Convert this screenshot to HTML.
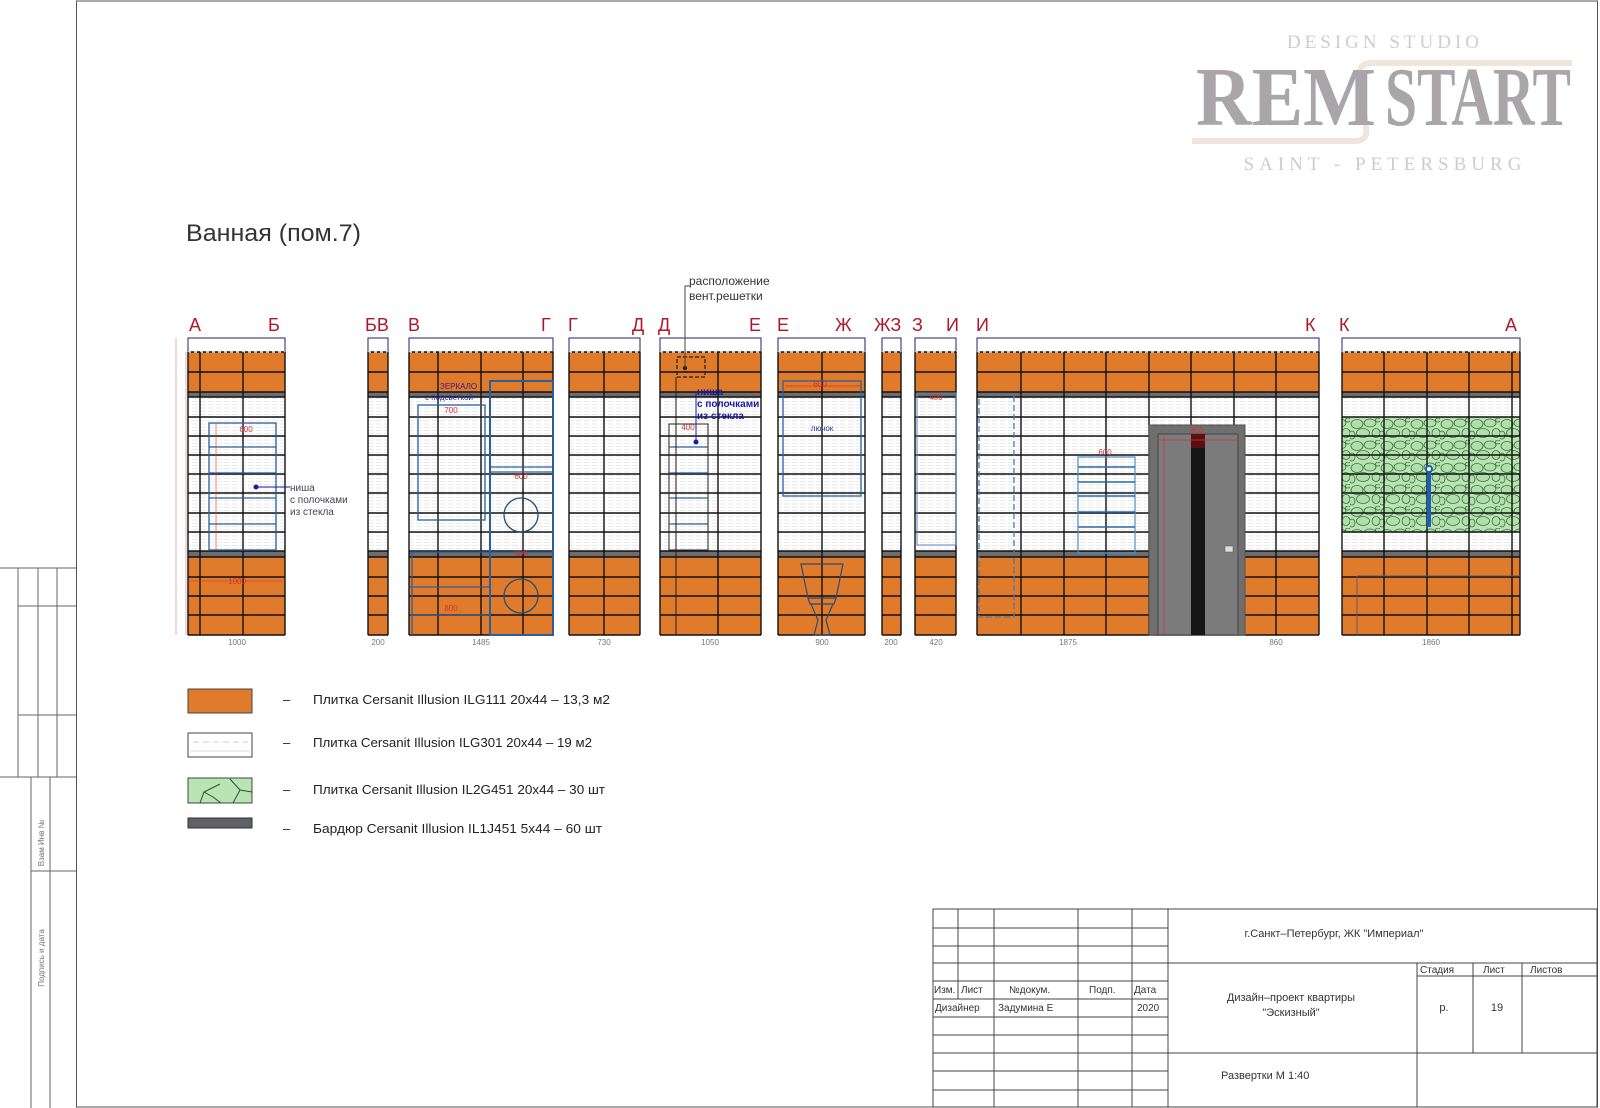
<!DOCTYPE html>
<html><head><meta charset="utf-8"><style>
html,body{margin:0;padding:0;background:#fff}
svg{display:block}
text{font-family:"Liberation Sans","DejaVu Sans",sans-serif}
</style></head><body>
<svg id="s" xmlns="http://www.w3.org/2000/svg" width="1600" height="1108" viewBox="0 0 1600 1108">
<defs>
<pattern id="wt" width="8" height="3.2" patternUnits="userSpaceOnUse">
<rect width="8" height="3.2" fill="#fff"/><line x1="0" y1="1.6" x2="6" y2="1.6" stroke="#e0e0e0" stroke-width="0.7"/>
</pattern>
<pattern id="peb" width="30" height="22" patternUnits="userSpaceOnUse">
<rect width="30" height="22" fill="#b9e4b4"/>
<g fill="#b0e0aa" stroke="#3d6b3d" stroke-width="0.8">
<ellipse cx="7" cy="6" rx="6" ry="4.5"/><ellipse cx="20" cy="5" rx="6" ry="4"/><ellipse cx="13" cy="15" rx="6.5" ry="4.5"/><ellipse cx="26" cy="15" rx="4" ry="4.5"/><ellipse cx="2" cy="17" rx="3" ry="4"/><ellipse cx="28" cy="2" rx="2.5" ry="2"/>
</g>
</pattern>
</defs>
<!-- page border -->
<rect x="76.5" y="1" width="1521" height="1106" fill="none" stroke="#555" stroke-width="1"/>
<!-- left stamp -->
<g stroke="#666" stroke-width="1" fill="none">
<line x1="0" y1="568" x2="76" y2="568"/><line x1="0" y1="777" x2="76" y2="777"/>
<line x1="18" y1="568" x2="18" y2="777"/><line x1="38" y1="568" x2="38" y2="777"/><line x1="57" y1="568" x2="57" y2="777"/>
<line x1="18" y1="606" x2="76" y2="606"/><line x1="18" y1="715" x2="76" y2="715"/>
<line x1="31" y1="777" x2="31" y2="1108"/><line x1="50" y1="777" x2="50" y2="1108"/>
<line x1="31" y1="871" x2="76" y2="871"/>
</g>
<text transform="translate(44,843) rotate(-90)" font-size="8" fill="#777" text-anchor="middle">Взам Инв №</text>
<text transform="translate(44,958) rotate(-90)" font-size="8" fill="#777" text-anchor="middle">Подпись и дата</text>

<!-- logo -->
<path d="M1192 141 L1355 141 Q1368 141 1366 128 L1360 76 Q1358 63 1372 63 L1572 63" fill="none" stroke="#f1e4d8" stroke-width="6"/>
<text x="1385" y="48" style="font-family:'Liberation Serif',serif" font-size="19" fill="#d2cccc" text-anchor="middle" letter-spacing="4">DESIGN STUDIO</text>
<text x="1196" y="125" style="font-family:'Liberation Serif',serif" font-size="84" font-weight="bold" fill="#a9a5a8" textLength="180" lengthAdjust="spacingAndGlyphs">REM</text>
<text x="1385" y="125" style="font-family:'Liberation Serif',serif" font-size="84" font-weight="bold" fill="#a9a5a8" textLength="186" lengthAdjust="spacingAndGlyphs">START</text>
<text x="1385" y="170" style="font-family:'Liberation Serif',serif" font-size="19" fill="#d0cbcb" text-anchor="middle" letter-spacing="5">SAINT - PETERSBURG</text>

<text x="186" y="241" font-size="24" fill="#333" textLength="175" lengthAdjust="spacingAndGlyphs">Ванная (пом.7)</text>

<!-- wall labels -->
<g font-size="18" fill="#b0182a">
<text x="189" y="331">А</text><text x="268" y="331">Б</text>
<text x="365" y="331">БВ</text><text x="408" y="331">В</text><text x="541" y="331">Г</text>
<text x="568" y="331">Г</text><text x="632" y="331">Д</text><text x="658" y="331">Д</text><text x="749" y="331">Е</text>
<text x="777" y="331">Е</text><text x="835" y="331">Ж</text><text x="874" y="331">ЖЗ</text><text x="912" y="331">З</text><text x="946" y="331">И</text>
<text x="976" y="331">И</text><text x="1305" y="331">К</text><text x="1339" y="331">К</text><text x="1505" y="331">А</text>
</g>
<g id="walls"></g>
<g id="over"></g>

<!-- vent annotation -->
<polyline points="685,368 685,286 690,286" fill="none" stroke="#444" stroke-width="1"/>
<text x="689" y="285" font-size="12" fill="#333">расположение</text>
<text x="689" y="300" font-size="12" fill="#333">вент.решетки</text>

<!-- bottom dims -->
<g font-size="8" fill="#777" text-anchor="middle">
<text x="237" y="645">1000</text><text x="378" y="645">200</text><text x="481" y="645">1485</text><text x="604" y="645">730</text>
<text x="710" y="645">1050</text><text x="822" y="645">900</text><text x="891" y="645">200</text><text x="936" y="645">420</text>
<text x="1068" y="645">1875</text><text x="1276" y="645">860</text><text x="1431" y="645">1860</text>
</g>

<!-- legend -->
<rect x="188" y="689" width="64" height="24" fill="#e07b2c" stroke="#444"/>
<rect x="188" y="733" width="64" height="24" fill="#fff" stroke="#444"/>
<line x1="193" y1="742" x2="248" y2="742" stroke="#ccc" stroke-dasharray="6,4"/><line x1="190" y1="751" x2="250" y2="751" stroke="#ddd"/>
<rect x="188" y="778" width="64" height="25" fill="#b9e4b4" stroke="#444"/>
<path d="M200 803 L204 792 L220 784 M204 792 L213 797 L221 803 M230 779 L240 790 L252 792 M240 790 L233 803" fill="none" stroke="#2e4e2e" stroke-width="1"/>
<rect x="188" y="818" width="64" height="10" fill="#5e6266" stroke="#333"/>
<g font-size="13" fill="#222">
<text x="283" y="704">–</text><text x="313" y="704" textLength="297" lengthAdjust="spacingAndGlyphs">Плитка Cersanit Illusion ILG111 20x44  – 13,3 м2</text>
<text x="283" y="747">–</text><text x="313" y="747" textLength="279" lengthAdjust="spacingAndGlyphs">Плитка Cersanit Illusion ILG301 20x44 – 19 м2</text>
<text x="283" y="794">–</text><text x="313" y="794" textLength="292" lengthAdjust="spacingAndGlyphs">Плитка Cersanit Illusion IL2G451 20x44 – 30 шт</text>
<text x="283" y="833">–</text><text x="313" y="833" textLength="289" lengthAdjust="spacingAndGlyphs">Бардюр Cersanit Illusion IL1J451 5x44 –  60 шт</text>
</g>

<!-- title block -->
<g stroke="#444" stroke-width="1" fill="none">
<rect x="933" y="909" width="664" height="198"/>
<line x1="1168" y1="909" x2="1168" y2="1107"/>
<line x1="958" y1="909" x2="958" y2="999"/>
<line x1="994" y1="909" x2="994" y2="1107"/><line x1="1078" y1="909" x2="1078" y2="1107"/><line x1="1132" y1="909" x2="1132" y2="1107"/>
<line x1="933" y1="928" x2="1168" y2="928"/><line x1="933" y1="946" x2="1168" y2="946"/><line x1="933" y1="963" x2="1168" y2="963"/>
<line x1="933" y1="981" x2="1168" y2="981"/><line x1="933" y1="999" x2="1168" y2="999"/><line x1="933" y1="1017" x2="1168" y2="1017"/>
<line x1="933" y1="1035" x2="1168" y2="1035"/><line x1="933" y1="1053" x2="1168" y2="1053"/><line x1="933" y1="1071" x2="1168" y2="1071"/><line x1="933" y1="1090" x2="1168" y2="1090"/>
<line x1="1168" y1="963" x2="1597" y2="963"/><line x1="1168" y1="1053" x2="1597" y2="1053"/>
<line x1="1417" y1="963" x2="1417" y2="1107"/><line x1="1473" y1="963" x2="1473" y2="1053"/><line x1="1522" y1="963" x2="1522" y2="1053"/>
<line x1="1417" y1="976" x2="1597" y2="976"/>
</g>
<g font-size="10" fill="#333">
<text x="934" y="993">Изм.</text><text x="961" y="993">Лист</text><text x="1009" y="993">№докум.</text><text x="1089" y="993">Подп.</text><text x="1134" y="993">Дата</text>
<text x="935" y="1011">Дизайнер</text><text x="998" y="1011">Задумина Е</text><text x="1137" y="1011">2020</text>
<text x="1334" y="937" text-anchor="middle" font-size="11">г.Санкт–Петербург, ЖК "Империал"</text>
<text x="1291" y="1001" text-anchor="middle" font-size="11">Дизайн–проект квартиры</text>
<text x="1291" y="1016" text-anchor="middle" font-size="11">"Эскизный"</text>
<text x="1221" y="1079" font-size="11">Развертки  М  1:40</text>
<text x="1420" y="973">Стадия</text><text x="1483" y="973">Лист</text><text x="1530" y="973">Листов</text>
<text x="1444" y="1011" text-anchor="middle" font-size="11">р.</text><text x="1497" y="1011" text-anchor="middle" font-size="11">19</text>
</g>
</svg>
<script>
(function(){
var NS="http://www.w3.org/2000/svg";
var W=document.getElementById("walls"),O=document.getElementById("over");
function el(p,t,a){var e=document.createElementNS(NS,t);for(var k in a)e.setAttribute(k,a[k]);p.appendChild(e);return e;}
var panels=[[188,285,[200,243]],[368,388,[]],[409,553,[438,481,523]],[569,640,[604]],[660,761,[718]],[778,865,[822]],[882,901,[]],[915,956,[]],[977,1319,[1021,1064,1106,1149,1191,1234,1276]],[1342,1520,[1384,1427,1469,1512]]];
var hl=[352,372,392,397,417,436,455,474,493,513,532,551,557,577,596,615,635];
panels.forEach(function(p){
 var x0=p[0],x1=p[1],w=x1-x0;
 el(W,"rect",{x:x0,y:338,width:w,height:14,fill:"#fff",stroke:"#22226a","stroke-width":1});
 el(W,"rect",{x:x0,y:352,width:w,height:40,fill:"#e07b2c"});
 el(W,"rect",{x:x0,y:392,width:w,height:5,fill:"#6d6d6d"});
 el(W,"rect",{x:x0,y:397,width:w,height:154,fill:"url(#wt)"});
 el(W,"rect",{x:x0,y:551,width:w,height:6,fill:"#6d6d6d"});
 el(W,"rect",{x:x0,y:557,width:w,height:78,fill:"#e07b2c"});
 if(x0==1342) el(W,"rect",{x:x0,y:417,width:w,height:115,fill:"url(#peb)"});
 hl.forEach(function(y){el(W,"line",{x1:x0,y1:y,x2:x1,y2:y,stroke:"#111","stroke-width":1.4});});
 el(W,"line",{x1:x0,y1:352,x2:x1,y2:352,stroke:"#fff","stroke-width":1.2,"stroke-dasharray":"3,3"});
 p[2].concat([x0,x1]).forEach(function(x){el(W,"line",{x1:x,y1:352,x2:x,y2:635,stroke:"#111","stroke-width":1.4});});
});
var B="#2a5f9e",R="#d0333a";
function r(x,y,w,h,c,sw,da){var a={x:x,y:y,width:w,height:h,fill:"none",stroke:c||B,"stroke-width":sw||1.3};if(da)a["stroke-dasharray"]=da;return el(O,"rect",a);}
function l(x1,y1,x2,y2,c,sw){return el(O,"line",{x1:x1,y1:y1,x2:x2,y2:y2,stroke:c||B,"stroke-width":sw||1.3});}
r(209,423,67,127);[447,473,498,524].forEach(function(y){l(209,y,276,y);});
el(O,"circle",{cx:256,cy:487,r:2.5,fill:"#1a1aa0"});l(256,487,290,487,"#1a1aa0",1);
l(176,338,176,635,"#e59a9a",0.8);l(186,352,186,635,"#e59a9a",0.8);l(216,423,216,550,R,0.6);l(188,581,285,581,R,0.6);
r(418,405,67,115);r(490,381,63,254,B,2);l(490,467,553,467);l(490,472,553,472);
el(O,"circle",{cx:521,cy:515,r:17,fill:"none",stroke:"#1b4f7a","stroke-width":1.3});
el(O,"circle",{cx:521,cy:596,r:17,fill:"none",stroke:"#1b4f7a","stroke-width":1.3});
l(410,552,553,552);l(410,587,490,587);l(410,615,490,615);l(412,552,412,635);
r(677,357,28,20,"#222",1.3,"4,2");el(O,"circle",{cx:685,cy:368,r:2.2,fill:"#222"});
r(669,424,39,126,"#222",1);[447,473,498,524].forEach(function(y){l(669,y,708,y);});
el(O,"circle",{cx:696,cy:442,r:2.5,fill:"#1a1aa0"});l(696,442,696,393,"#1a1aa0",1);
l(676,377,676,635,"#2a1a1a",1);
r(783,381,78,115);l(785,386,860,386,R,0.7);
el(O,"path",{d:"M801 564 L843 564 L836 598 L808 598 Z M808 598 L836 598 L834 604 L810 604 Z M811 604 L833 604 L826 620 L830 635 L814 635 L818 620 Z",fill:"none",stroke:"#2a4a7a","stroke-width":1.2});
r(917,393,39,152,"#5a8ac8",1);
r(979,395,35,222,"#4a7ab0",1.3,"6,3");
r(1078,457,57,96,"#4a90c8",1.2);[467,482,496,512,527].forEach(function(y){l(1078,y,1135,y,"#2a6aa8",1.5);});
el(O,"rect",{x:1149,y:425,width:96,height:210,fill:"#6f6f6f",stroke:"#555"});
el(O,"rect",{x:1158,y:434,width:80,height:201,fill:"#7b7b7b",stroke:"#444"});
el(O,"rect",{x:1191,y:434,width:14,height:201,fill:"#161616"});
el(O,"rect",{x:1191,y:434,width:14,height:14,fill:"#5a1010"});
el(O,"rect",{x:1225,y:546,width:8,height:6,fill:"#ddd",stroke:"#555","stroke-width":0.5});
l(1164,437,1164,635,R,0.7);l(1158,440,1238,440,R,0.7);
l(1429,468,1429,527,"#1b5fb3",4);el(O,"circle",{cx:1429,cy:469,r:3,fill:"#fff",stroke:"#1b5fb3","stroke-width":2});
l(1357,576,1357,635,"#6a5a6a",1);l(1357,576,1520,576,"#6a5a6a",1);
})();
</script>
<div style="position:absolute;left:0;top:0;width:1600px;height:1108px;pointer-events:none">
<svg width="1600" height="1108" style="position:absolute;left:0;top:0">
<g>
<text x="290" y="491" font-size="10" fill="#445">ниша</text>
<text x="290" y="503" font-size="10" fill="#445">с полочками</text>
<text x="290" y="515" font-size="10" fill="#445">из стекла</text>
<text x="697" y="395" font-size="10" fill="#1a1aa0" font-weight="bold">ниша</text>
<text x="697" y="407" font-size="10" fill="#1a1aa0" font-weight="bold">с полочками</text>
<text x="697" y="419" font-size="10" fill="#1a1aa0" font-weight="bold">из стекла</text>
<text x="440" y="389" font-size="8" fill="#3a1a8a">ЗЕРКАЛО</text>
<text x="425" y="400" font-size="8" fill="#2a2aa0">с подсветкой</text>
<text x="822" y="431" font-size="8" fill="#2a3a9a" text-anchor="middle">лючок</text>
<g font-size="8" fill="#d0333a" text-anchor="middle">
<text x="246" y="432">600</text><text x="451" y="413">700</text><text x="521" y="479">600</text><text x="451" y="611">800</text>
<text x="688" y="430">400</text><text x="820" y="387">600</text><text x="936" y="400">400</text><text x="1105" y="455">600</text>
<text x="1197" y="433">800</text><text x="237" y="584">1000</text><text x="521" y="556">600</text>
</g>
</g>
</svg>
</div>
</body></html>
